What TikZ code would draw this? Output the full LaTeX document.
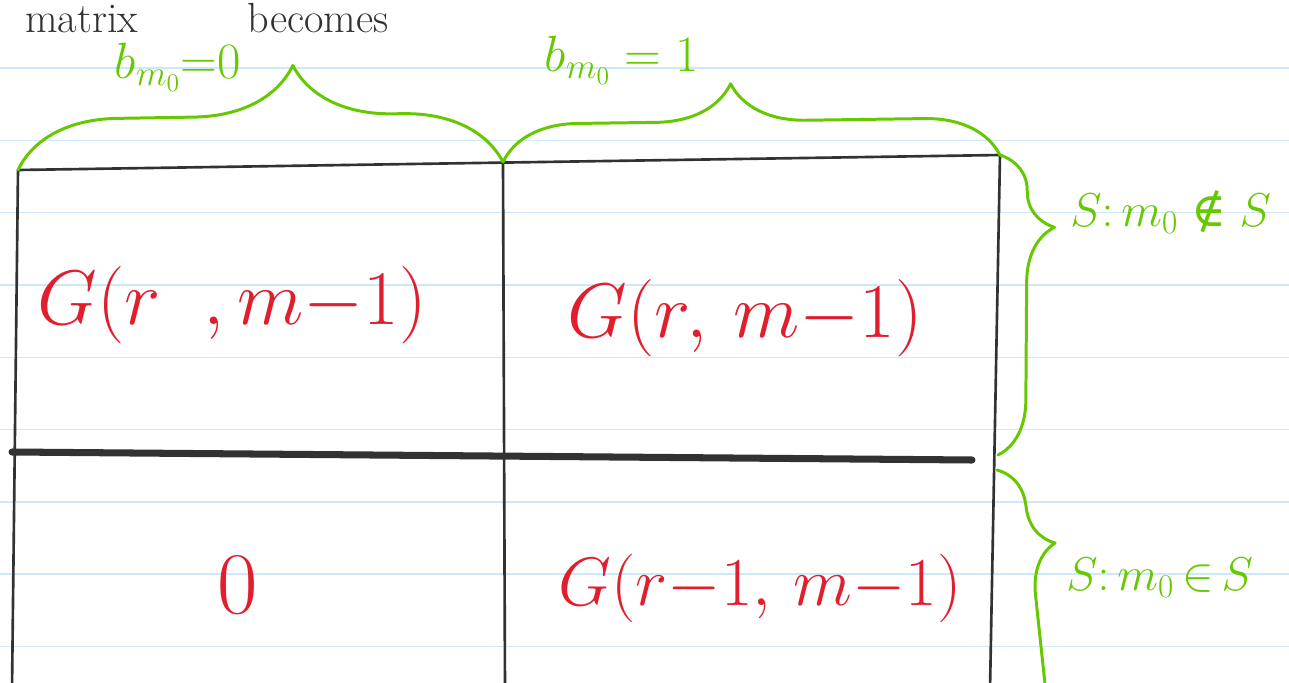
\documentclass[tikz,border=0pt]{standalone}
\usepackage{fix-cm}
\usepackage{fontspec}
\newfontfamily\symbfont{DejaVu Serif}
\usetikzlibrary{decorations.pathreplacing}
\definecolor{inkgreen}{RGB}{102,200,0}
\definecolor{inkred}{RGB}{225,30,45}
\definecolor{inkblack}{RGB}{50,50,50}
\definecolor{ruleblue}{RGB}{205,232,248}

\begin{document}
\begin{tikzpicture}[
	x=0.02cm, y=-0.02cm,
	paper/.style={draw=ruleblue, line width=0.8pt},
	grid/.style={draw=inkblack, line width=1.5pt, line cap=round, line join=round},
	split/.style={draw=inkblack, line width=4pt, line cap=round},
	curly/.style={draw=inkgreen, line width=1.7pt, line cap=round, line join=round, decorate},
	cell/.style={text=inkred, font=\fontsize{44}{44}\selectfont},
	note/.style={text=inkgreen, inner sep=0pt, font=\fontsize{29}{29}\selectfont},
	heading/.style={text=inkblack, font=\fontsize{24}{24}\selectfont},
	]
	
	% ruled paper
	\fill[white] (0,0) rectangle (1289,683);
	\useasboundingbox (0,0) rectangle (1289,683);
	\foreach \i in {0,...,8}
		\draw[paper] (0,68+72.3*\i) -- (1289,68+72.3*\i);
	
	% heading
	\node[heading, anchor=base west, inner sep=0pt] (title) at (25,32) {matrix\hspace{2.6em}becomes};
	
	% corners of the table
	\coordinate (tl) at (18,170);
	\coordinate (tm) at (503,162);
	\coordinate (tr) at (1000,155);
	\coordinate (ml) at (12,452);
	\coordinate (mr) at (972,460);
	\coordinate (bl) at (12,690);
	\coordinate (bm) at (505,690);
	\coordinate (br) at (990,690);
	\coordinate (rm) at (998,455);
	\coordinate (lo) at (997,470);
	\coordinate (le) at (1028,760);
	
	% table
	\draw[grid] (tl) -- (tr);
	\draw[grid] (tl) -- (bl);
	\draw[grid] (tm) -- (bm);
	\draw[grid] (tr) -- (br);
	\draw[split] (ml) -- (mr);
	
	% cells
	\node[cell] (g00) at (232,305) {$G(r\;\;,m{-}1)$};
	\node[cell] (g01) at (745,318) {$G(r,\,m{-}1)$};
	\node[cell, font=\fontsize{50}{50}\selectfont] (z10) at (238,585) {$0$};
	\node[cell, font=\fontsize{39}{39}\selectfont] (g11) at (760,588) {$G(r{-}1,\,m{-}1)$};
	
	% braces and labels
	\draw[curly, decoration={brace, amplitude=2cm, aspect=0.57}] (tl) -- (tm);
	\draw[curly, decoration={brace, amplitude=1.5cm, aspect=0.46}] (tm) -- (tr);
	\draw[curly, decoration={brace, amplitude=1.1cm, aspect=0.24}] (tr) -- (rm);
	\draw[curly, decoration={brace, amplitude=1cm, aspect=0.27}] (lo) -- (le);
	
	\node[note] (b0) at (178,67) {$b_{m_0}{=}0$};
	\node[note] (b1) at (622,60) {$b_{m_0}=1$};
	\node[note, anchor=west, font=\fontsize{27}{27}\selectfont] (notin) at (1070,212) {$S\colon m_0\mathrel{\mbox{\symbfont ∉}}S$};
	\node[note, anchor=west, font=\fontsize{27}{27}\selectfont] (isin) at (1066,578) {$S\colon m_0\,{\in}\,S$};
	
\end{tikzpicture}
\end{document}
